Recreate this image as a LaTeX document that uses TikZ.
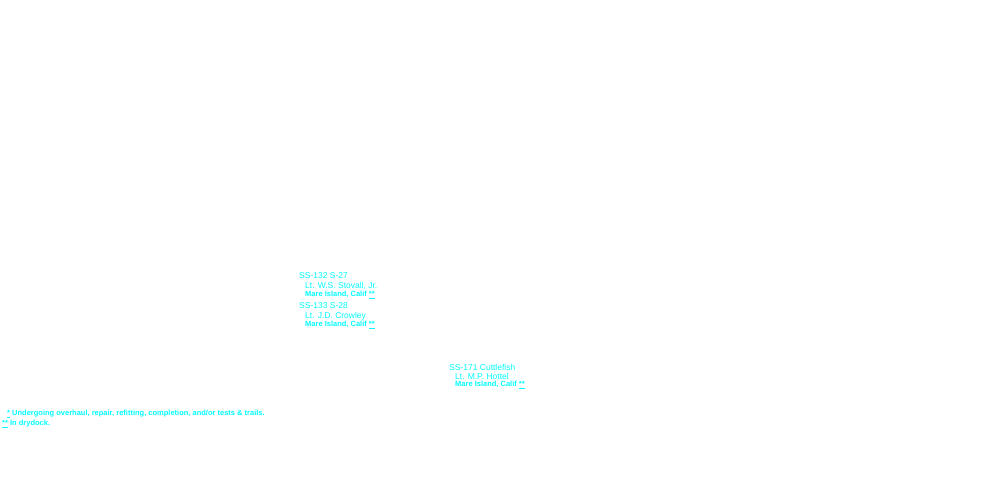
\documentclass[tikz,border=0pt]{standalone}
\usepackage{fontspec}
\setmainfont{Liberation Sans}
\definecolor{aqua}{RGB}{0,255,255}
\begin{document}
\begin{tikzpicture}[x=1pt,y=-1pt,
  t/.style={anchor=west,inner sep=0pt,text=aqua,font=\fontsize{8.5}{9}\selectfont},
  s/.style={anchor=west,inner sep=0pt,text=aqua,font=\fontsize{7.5}{8}\selectfont\bfseries}]
\useasboundingbox (0,0) rectangle (1000,500);
\newcommand{\uast}{\underline{*}}
\node[t] (a1) at (299,276) {SS-132 S-27};
\node[t] (a2) at (305,286) {Lt. W.S. Stovall, Jr.};
\node[s] (a3) at (305,295) {Mare Island, Calif \uast\uast};
\node[t] (b1) at (299,306) {SS-133 S-28};
\node[t] (b2) at (305,316) {Lt. J.D. Crowley};
\node[s] (b3) at (305,325) {Mare Island, Calif \uast\uast};
\node[t] (c1) at (449,367) {SS-171 Cuttlefish};
\node[t] (c2) at (455,376) {Lt. M.P. Hottel};
\node[s] (c3) at (455,385) {Mare Island, Calif \uast\uast};
\node[s] (f1) at (7,414) {\uast\ Undergoing overhaul, repair, refitting, completion, and/or tests \& trails.};
\node[s] (f2) at (2,424) {\uast\uast\ In drydock.};
\end{tikzpicture}
\end{document}
